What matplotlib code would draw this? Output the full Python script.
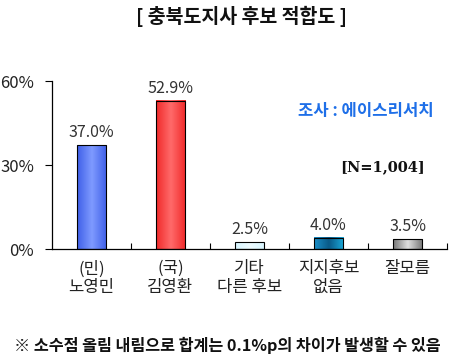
import matplotlib
matplotlib.use("Agg")
import matplotlib.pyplot as plt
import numpy as np
from matplotlib.colors import LinearSegmentedColormap

plt.rcParams['font.family'] = ['Noto Sans CJK KR', 'DejaVu Sans']

categories = ["(민)\n노영민", "(국)\n김영환", "기타\n다른 후보", "지지후보\n없음", "잘모름"]
values = [37.0, 52.9, 2.5, 4.0, 3.5]
value_labels = ["37.0%", "52.9%", "2.5%", "4.0%", "3.5%"]
yticks = [0, 30, 60]
ytick_labels = ["0%", "30%", "60%"]
title = "[ 충북도지사 후보 적합도 ]"
source = "조사 : 에이스리서치"
sample = "[N=1,004]"
footnote = "※ 소수점 올림 내림으로 합계는 0.1%p의 차이가 발생할 수 있음"

# gradient colours (edge, centre, edge)
bar_grads = [
    ("#3f5fe8", "#7f9bff", "#3f5fe8"),
    ("#f02a2a", "#ff6a6a", "#f02a2a"),
    ("#d8f6ff", "#eefcff", "#d8f6ff"),
    ("#1a8fc8", "#0a5a88", "#1aa8d8"),
    ("#777777", "#e0e0e0", "#777777"),
]

fig = plt.figure(figsize=(4.55, 3.62), dpi=100)
ax = fig.add_axes([52/455, 1-249/362, 395/455, 168/362])

x = np.arange(len(categories))
width = 0.37
bars = ax.bar(x, values, width=width, color='none', edgecolor='black', linewidth=0.8, zorder=3)
grad = np.linspace(0, 1, 64).reshape(1, -1)
for b, cols in zip(bars, bar_grads):
    cmap = LinearSegmentedColormap.from_list("g", list(cols))
    x0, y0, w, h = b.get_x(), b.get_y(), b.get_width(), b.get_height()
    ax.imshow(grad, cmap=cmap, aspect='auto', extent=[x0, x0 + w, y0, y0 + h], zorder=2)

for xi, v, lab in zip(x, values, value_labels):
    ax.text(xi, v + 1.5, lab, ha='center', va='bottom', fontsize=11.5, color='#333333')

ax.set_xlim(-0.5, len(categories) - 0.5)
ax.set_ylim(0, 60)
ax.set_yticks(yticks)
ax.set_yticklabels(ytick_labels, fontsize=12, color='#222222')
ax.tick_params(axis='y', direction='out', length=5, width=0.8, pad=8)
ax.set_xticks(np.arange(len(categories)) + 0.5)
ax.set_xticklabels([])
ax.tick_params(axis='x', direction='in', length=4, width=0.8)
for xi, c in zip(x, categories):
    ax.text(xi, -4, c, ha='center', va='top', fontsize=12, color='#222222', linespacing=1.15)

for s in ['top', 'right']:
    ax.spines[s].set_visible(False)
for s in ['left', 'bottom']:
    ax.spines[s].set_linewidth(0.9)

fig.text(242/455, 1-16/362, title, ha='center', va='center', fontsize=14, fontweight='bold', color='#111111')
fig.text(366/455, 1-111/362, source, ha='center', va='center', fontsize=12, fontweight='bold', color='#1e6fe8')
fig.text(383/455, 1-167/362, sample, ha='center', va='center', fontsize=10.5, fontweight='bold', color='#111111', family='DejaVu Serif')
fig.text(227/455, 1-345/362, footnote, ha='center', va='center', fontsize=11.7, fontweight='bold', color='#111111')

fig.savefig("out.png", dpi=100)
